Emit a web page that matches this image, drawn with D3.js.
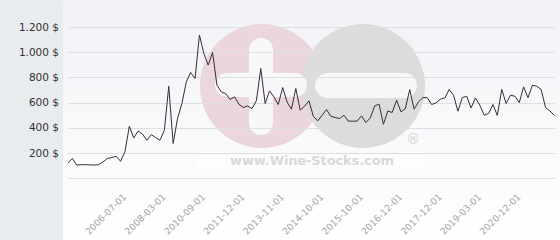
<!DOCTYPE html>
<html lang="en">
<head>
<meta charset="UTF-8">
<title>Price history</title>
<script src="https://cdn.jsdelivr.net/npm/d3@7/dist/d3.min.js"></script>
<style>
body { margin: 0; background: #fff; }
svg { display: block; }
text { font-family: 'DejaVu Sans', sans-serif; }
</style>
</head>
<body>
<script>
// price per point (category axis, one point per quote)
const prices = [
  123, 157, 105, 108, 108, 106, 105, 108, 130, 157,
  165, 175, 135, 211, 413, 320, 375, 350, 302, 347,
  323, 302, 381, 730, 276, 474, 593, 765, 839, 791,
  1137, 991, 898, 998, 738, 685, 672, 625, 646, 588,
  561, 574, 553, 615, 871, 593, 693, 646, 585, 720,
  606, 548, 712, 540, 572, 614, 492, 455, 500, 545,
  492, 482, 474, 500, 453, 453, 453, 495, 442, 479,
  574, 588, 428, 534, 522, 619, 527, 553, 704, 548,
  606, 640, 640, 585, 598, 627, 637, 704, 659, 532,
  640, 651, 558, 637, 580, 500, 514, 585, 498, 706,
  593, 659, 651, 600, 725, 640, 738, 730, 704, 561,
  534, 500
];
// labelled categories and their point index
const tickLabels = ['2006-07-01', '2008-03-01', '2010-09-01', '2011-12-01', '2013-11-01',
  '2014-10-01', '2015-10-01', '2016-12-01', '2017-12-01', '2019-03-01', '2020-12-01'];
const tickIndex = [13, 22, 31, 40, 49, 58, 67, 76, 85, 94, 103];
const yTicks = [200, 400, 600, 800, 1000, 1200];
const gridTicks = [0, 200, 400, 600, 800, 1000, 1200];

const width = 560, height = 240;
const svg = d3.select('body').append('svg')
    .attr('width', width)
    .attr('height', height);

const defs = svg.append('defs');
const grad = defs.append('linearGradient')
    .attr('id', 'bg').attr('x1', 0).attr('y1', 0).attr('x2', 0).attr('y2', 1);
grad.append('stop').attr('offset', '0%').attr('stop-color', '#f1f2f6');
grad.append('stop').attr('offset', '100%').attr('stop-color', '#ffffff');

// left panel + plot background
svg.append('rect').attr('width', 63).attr('height', height).attr('fill', '#e9ecef');
svg.append('rect').attr('x', 63).attr('width', width - 63).attr('height', height).attr('fill', 'url(#bg)');

const x = d3.scaleLinear().domain([0, prices.length - 1]).range([68, 554.3]);
const y = d3.scaleLinear().domain([0, 1200]).range([178.3, 27]);

// watermark logo
const logo = svg.append('g').attr('class', 'logo');
logo.append('circle').attr('cx', 262).attr('cy', 86).attr('r', 62).attr('fill', '#ead6dc');
logo.append('circle').attr('cx', 363).attr('cy', 86).attr('r', 62).attr('fill', '#dcdcdd');
logo.append('rect').attr('x', 249).attr('y', 38).attr('width', 24).attr('height', 97).attr('rx', 12).attr('fill', '#f8f8fa');
logo.append('rect').attr('x', 215).attr('y', 73).attr('width', 92).attr('height', 24).attr('rx', 12).attr('fill', '#f8f8fa');
logo.append('rect').attr('x', 315).attr('y', 73).attr('width', 102).attr('height', 25).attr('rx', 12.5).attr('fill', '#f8f8fa');
logo.append('rect').attr('x', 197).attr('y', 155).attr('width', 228).attr('height', 18).attr('fill', '#ffffff').attr('opacity', 0.6);
logo.append('text').attr('x', 312).attr('y', 165)
    .attr('text-anchor', 'middle')
    .attr('font-family', 'Liberation Sans, Arial, sans-serif')
    .attr('font-weight', 'bold')
    .attr('font-size', 13)
    .attr('textLength', 164)
    .attr('fill', '#d9d9d9')
    .text('www.Wine-Stocks.com');
logo.append('text').attr('x', 413).attr('y', 144)
    .attr('text-anchor', 'middle')
    .attr('font-family', 'Liberation Sans, Arial, sans-serif')
    .attr('font-size', 14)
    .attr('fill', '#d4d4d4')
    .text('®');

// grid
svg.append('g').selectAll('line')
    .data(gridTicks)
    .join('line')
    .attr('x1', 68).attr('x2', 555)
    .attr('y1', d => Math.round(y(d)) + 0.5)
    .attr('y2', d => Math.round(y(d)) + 0.5)
    .attr('stroke', '#dedfe2')
    .attr('stroke-width', 1);

// y labels
const fmt = d => d3.format(',')(d).replace(',', '.') + ' $';
svg.append('g').selectAll('text')
    .data(yTicks)
    .join('text')
    .attr('x', 59)
    .attr('y', d => y(d) + 3.5)
    .attr('text-anchor', 'end')
    .attr('font-size', 10.5)
    .attr('fill', '#333')
    .text(fmt);

// x labels
svg.append('g').selectAll('text')
    .data(tickIndex)
    .join('text')
    .attr('transform', d => `translate(${x(d) + 2},197.5) rotate(-45)`)
    .attr('text-anchor', 'end')
    .attr('font-size', 9.2)
    .attr('fill', '#a4a4a4')
    .text((d, i) => tickLabels[i]);

// price line
const line = d3.line()
    .x((d, i) => x(i))
    .y(d => y(d));
svg.append('path')
    .datum(prices)
    .attr('d', line)
    .attr('fill', 'none')
    .attr('stroke', '#3b2a36')
    .attr('stroke-width', 1)
    .attr('stroke-linejoin', 'round');
</script>
</body>
</html>
